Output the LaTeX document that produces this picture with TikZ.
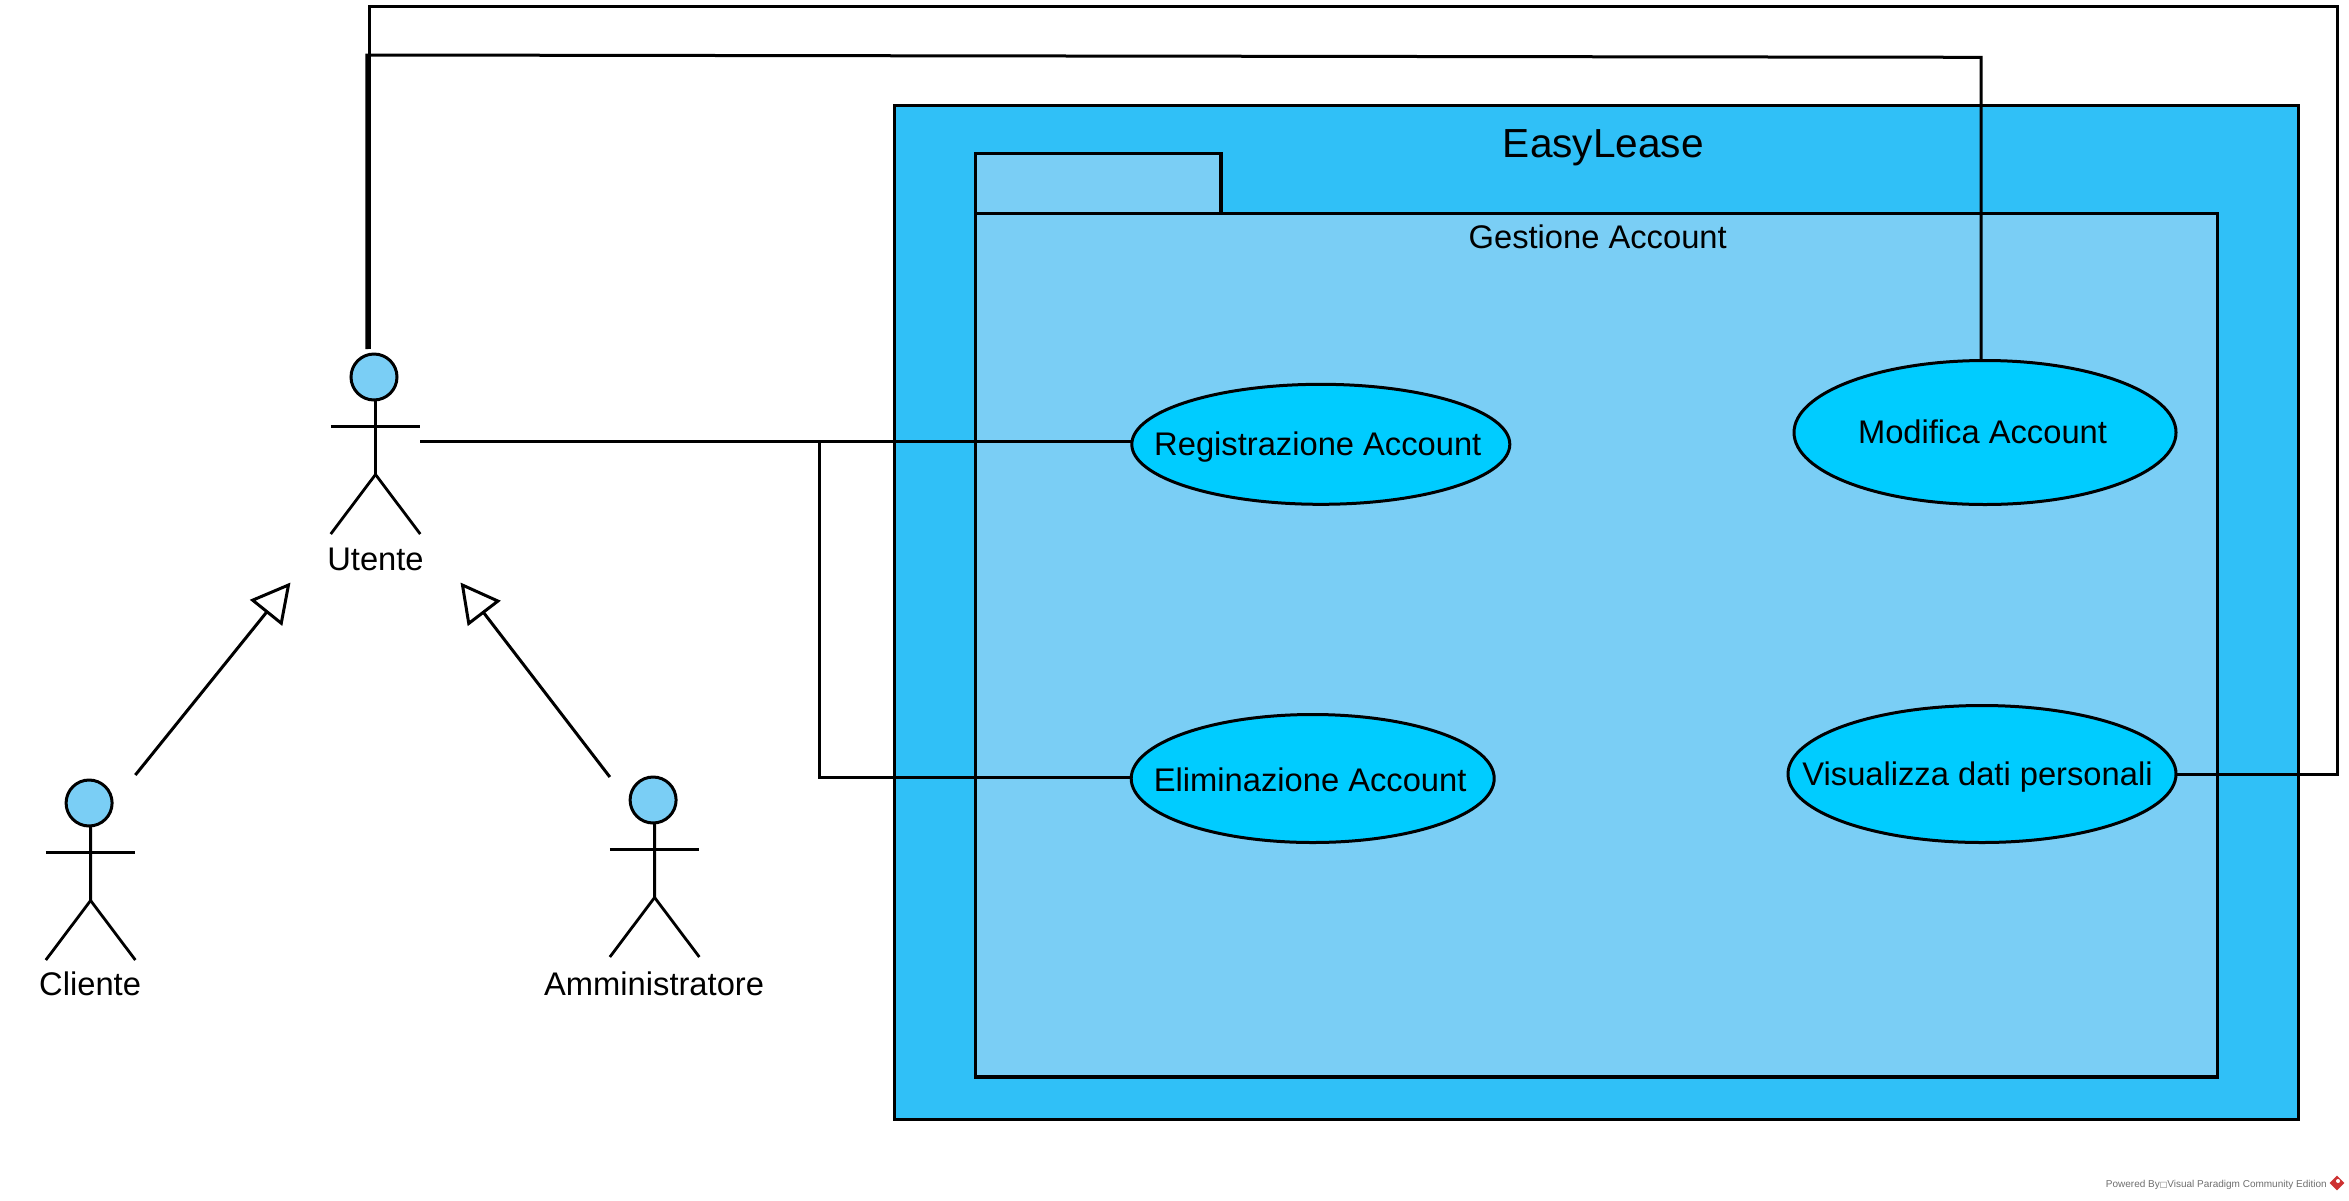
\documentclass[tikz,border=0pt]{standalone}
\usepackage{fontspec}
\setmainfont{Liberation Sans}
\newfontfamily\boxfont{DejaVu Sans}
\usepackage{xcolor}
\usepackage{tikz}
\usetikzlibrary{positioning, calc, arrows.meta}
\usetikzlibrary{shapes,shapes.geometric}
\definecolor{systemblue}{RGB}{48,192,247}
\definecolor{packageblue}{RGB}{122,206,245}
\definecolor{caseblue}{RGB}{0,204,255}
\definecolor{footergray}{RGB}{110,110,110}
\definecolor{logored}{RGB}{205,50,50}
\tikzset{
	basefont/.style={font=\fontsize{32.7}{39}\selectfont},
	frame/.style={draw, line width=3.2pt, inner sep=0pt, outer sep=0pt, line join=miter},
	usecase/.style={ellipse, draw, fill=caseblue, line width=3pt, inner xsep=-100pt, inner ysep=0pt, outer sep=0pt, basefont, text height=24pt, text depth=2pt},
	nudge/.style={execute at end node={\kern#1}},
	actor/.style={minimum width=89.5pt, minimum height=185pt, inner sep=0pt, outer sep=0pt},
	actorname/.style={inner sep=0pt, outer sep=0pt, basefont, text height=24pt, text depth=7pt},
	link/.style={line width=3pt, line join=miter},
	extends/.style={line width=3pt, -{Triangle[open, length=39pt, width=41pt]}}
}

\begin{document}
\begin{tikzpicture}[x=1pt, y=-1pt, on grid]
	\useasboundingbox (0,0) rectangle (2349,1200);

	\node[frame, fill=systemblue, minimum width=1404pt, minimum height=1013.8pt] (sys) at (1596.15,612.4) {};
	\node[frame, fill=packageblue, minimum width=1242.3pt, minimum height=863.7pt] (pkg) at (1596.35,645.15) {};
	\node[frame, fill=packageblue, minimum width=245.8pt, minimum height=59.6pt, anchor=south west] (tab) at (pkg.north west) {};
	\node[anchor=base, font=\fontsize{40.6}{48}\selectfont] (sysname) at (1603.4,157) {EasyLease};
	\node[anchor=base, basefont] (pkgname) at (1597.7,248) {Gestione Account};

	\node[actor] (act0) at (375.5,441.5) {};
	\node[actor, below left=426pt and 284.9pt of act0] (act1) {};
	\node[actor, below right=423pt and 279.1pt of act0] (act2) {};
	\node[actorname, below=12pt of act0.south, anchor=north] (name0) {Utente};
	\node[actorname, below=11pt of act1.south, anchor=north, xshift=-0.5pt] (name1) {Cliente};
	\node[actorname, below=14pt of act2.south, anchor=north, xshift=-0.5pt] (name2) {Amministratore};

	\foreach \who in {act0,act1,act2} {
		\draw[line width=3pt, fill=packageblue] ($(\who.north)+(-1.5,28)$) circle (23pt);
		\draw[line width=2.8pt] ($(\who.north)+(0,51)$) -- ($(\who.north)+(0,125.5)$) -- (\who.south west);
		\draw[line width=2.8pt] ($(\who.north)+(0,125.5)$) -- (\who.south east);
		\draw[line width=3pt] ($(\who.north west)+(0,77)$) -- ($(\who.north east)+(0,77)$);
	}

	\node[usecase, nudge=6pt, minimum width=378pt, minimum height=120pt] (uc0) at (1320.8,444.3) {Registrazione Account};
	\node[usecase, nudge=5pt, text height=26pt, text depth=0pt, minimum width=363pt, minimum height=128pt, below left=334.2pt and 8.1pt of uc0] (uc1) {Eliminazione Account};
	\node[usecase, nudge=5pt, minimum width=382pt, minimum height=144pt, above right=11.8pt and 664.2pt of uc0] (uc2) {Modifica Account};
	\node[usecase, nudge=9pt, minimum width=388pt, minimum height=137pt, below left=341.5pt and 3pt of uc2] (uc3) {Visualizza dati personali};

	\coordinate (top0) at (369,6.3);
	\coordinate (top1) at (2337,6.3);
	\coordinate (top2) at (366.8,55);
	\coordinate (top3) at (1981,57.3);
	\coordinate (fork) at (819.3,441.5);
	\coordinate (fork2) at (819.3,777);
	\coordinate (tip0) at (290.5,582.5);
	\coordinate (tip1) at (460.5,582.5);

	\draw[link] (act0.east) -- (act0.east -| uc0.west);
	\draw[link] (fork) -- (fork2) -- (fork2 -| uc1.west);
	\draw[link] (uc3.east) -| (top1) -- (top0) -- (top0 |- act0.north);
	\draw[link] (top3 |- uc2.north) -- (top3) -- (top2) -- (top2 |- act0.north);
	\draw[extends] (act1.north east) -- (tip0);
	\draw[extends] ($(act2.north west)+(0,5)$) -- (tip1);

	\node[anchor=base west, inner sep=0pt, text=footergray, font=\fontsize{10}{12}\selectfont] (powered) at (2105.7,1187) {Powered By{\boxfont\fontsize{8}{10}\selectfont □}Visual Paradigm Community Edition};
	\node[diamond, fill=logored, inner sep=0pt, minimum size=15pt] (logo) at (2337,1183) {};
	\node[circle, fill=white, inner sep=0pt, minimum size=4pt] (logodot) at (2338,1181) {};
\end{tikzpicture}
\end{document}
